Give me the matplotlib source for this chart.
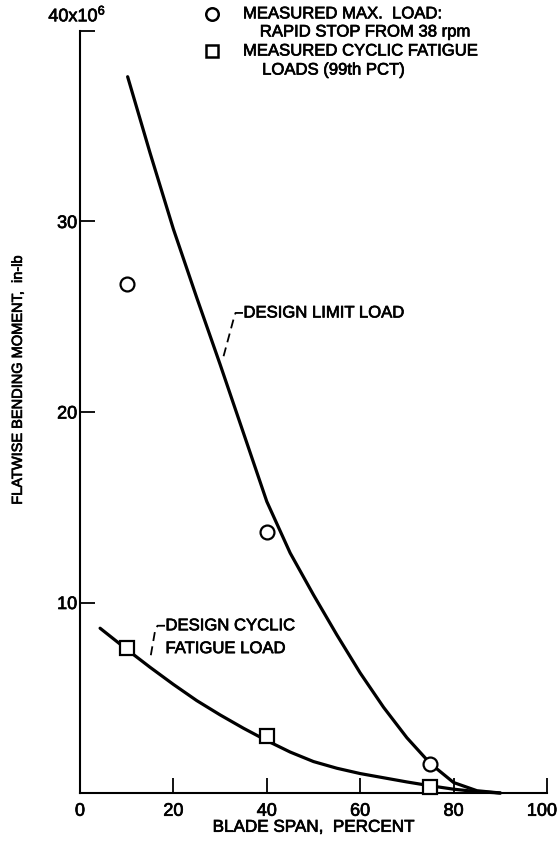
import matplotlib
matplotlib.use('Agg')
import matplotlib.pyplot as plt
import matplotlib.patheffects as pe
from matplotlib.transforms import ScaledTranslation

plt.rcParams['font.family'] = ['Liberation Sans', 'DejaVu Sans']
plt.rcParams['mathtext.fontset'] = 'custom'
plt.rcParams['mathtext.rm'] = 'Liberation Sans'
plt.rcParams['mathtext.it'] = 'Liberation Sans'

# measured points (blade span %, moment in 10^6 in-lb)
max_load_span = [10, 40, 75]
max_load_moment = [26.7, 13.7, 1.5]
fatigue_span = [10, 40, 75]
fatigue_moment = [7.6, 3.0, 0.3]

# design curves
limit_span = [10.2, 15, 20, 25, 30, 35, 40, 45, 50, 55, 60, 65, 70, 75, 80, 85, 90]
limit_moment = [37.6, 33.6, 29.6, 26.0, 22.5, 18.9, 15.3, 12.6, 10.4, 8.3, 6.3,
                4.5, 2.9, 1.55, 0.55, 0.12, 0.0]
cyclic_span = [4.3, 9.85, 15, 20, 25, 30, 35, 40, 45, 50, 55, 60, 65, 70, 75, 80, 85, 90]
cyclic_moment = [8.65, 7.57, 6.6, 5.7, 4.85, 4.1, 3.4, 2.75, 2.15, 1.65, 1.3, 1.02,
                 0.8, 0.58, 0.38, 0.2, 0.07, 0.0]

x_ticks = [0, 20, 40, 60, 80, 100]
y_ticks = [10, 20, 30, 40]

# scanned lettering is a bit heavier than a plain font
heavy = [pe.withStroke(linewidth=0.5, foreground='black')]
fs = 12

fig = plt.figure(figsize=(5.58, 8.44), dpi=100)
ax = fig.add_axes([80 / 558, 51 / 844, 467 / 558, 762 / 844])

ax.plot(limit_span, limit_moment, color='black', lw=2.3, clip_on=False,
        solid_capstyle='round', solid_joinstyle='round')
ax.plot(cyclic_span, cyclic_moment, color='black', lw=2.3, clip_on=False,
        solid_capstyle='round', solid_joinstyle='round')
ax.plot(max_load_span, max_load_moment, 'o', ms=10, mfc='white', mec='black',
        mew=1.6, clip_on=False, zorder=5)
ax.plot(fatigue_span, fatigue_moment, 's', ms=9.5, mfc='white', mec='black',
        mew=1.6, clip_on=False, zorder=5)

ax.set_xlim(0, 100)
ax.set_ylim(0, 40)
ax.spines['top'].set_visible(False)
ax.spines['right'].set_visible(False)
ax.spines['left'].set_linewidth(1.5)
ax.spines['bottom'].set_linewidth(1.5)

ax.set_xticks(x_ticks)
ax.set_xticklabels([str(t) for t in x_ticks])
ax.set_yticks(y_ticks)
ax.set_yticklabels([str(t) for t in y_ticks[:-1]] + [''])
ax.tick_params(axis='x', direction='in', length=11, width=1.3, pad=7, labelsize=13)
ax.tick_params(axis='y', direction='in', length=11, width=1.3, pad=2, labelsize=13)
ax.xaxis.get_major_ticks()[0].tick1line.set_visible(False)
for lab in ax.get_xticklabels() + ax.get_yticklabels():
    lab.set_path_effects(heavy)
# keep the last x label inside the page, as in the scan
last = ax.get_xticklabels()[-1]
last.set_transform(last.get_transform() + ScaledTranslation(-5 / 100, 0, fig.dpi_scale_trans))

ax.text(-0.6, 40.3, r'40x10$^{6}$', fontsize=13, ha='center', va='bottom',
        path_effects=heavy)

ax.set_xlabel('BLADE SPAN,  PERCENT', fontsize=12.3, labelpad=0, path_effects=heavy)
ax.set_ylabel('FLATWISE BENDING MOMENT,  in-lb', fontsize=10.5, path_effects=heavy)
ax.yaxis.set_label_coords(-0.118, 0.543)

# legend written in the upper area
ax.plot([28.3], [40.9], 'o', ms=9, mfc='white', mec='black', mew=1.8, clip_on=False)
ax.plot([28.3], [38.95], 's', ms=8.5, mfc='white', mec='black', mew=1.8, clip_on=False)
ax.text(34.9, 40.9, 'MEASURED MAX.  LOAD:', fontsize=fs, va='center', path_effects=heavy)
ax.text(38.5, 39.95, 'RAPID STOP FROM 38 rpm', fontsize=fs, va='center', path_effects=heavy)
ax.text(34.9, 38.95, 'MEASURED CYCLIC FATIGUE', fontsize=fs, va='center', path_effects=heavy)
ax.text(39.0, 37.95, 'LOADS (99th PCT)', fontsize=fs, va='center', path_effects=heavy)

# curve labels with dashed leaders
ax.text(35.0, 25.2, 'DESIGN LIMIT LOAD', fontsize=fs, va='center', path_effects=heavy)
ax.plot([34.9, 33.3, 32.8, 30.6], [25.2, 25.2, 24.8, 22.8], color='black', lw=1.3,
        dashes=(5, 3))
ax.text(18.3, 8.78, 'DESIGN CYCLIC', fontsize=fs, va='center', path_effects=heavy)
ax.text(18.3, 7.58, 'FATIGUE LOAD', fontsize=fs, va='center', path_effects=heavy)
ax.plot([18.2, 16.6, 16.1, 15.0], [8.78, 8.78, 8.55, 7.0], color='black', lw=1.3,
        dashes=(5, 3))

fig.savefig('out.png', dpi=100)
